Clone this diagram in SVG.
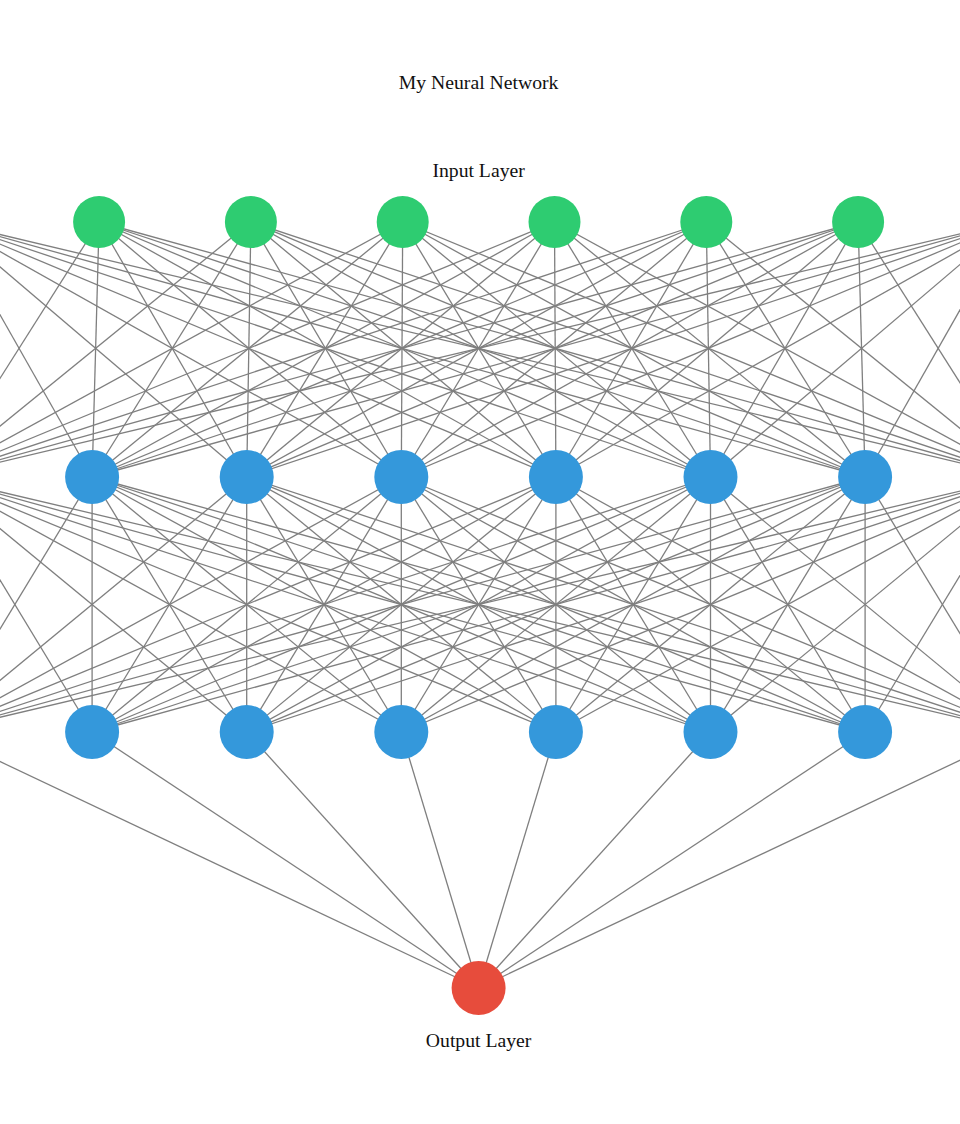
<svg xmlns="http://www.w3.org/2000/svg" width="960" height="1124" viewBox="0 0 960 1124">
<style>
.bg{fill:#ffffff}
.edges line{stroke:#7f7f7f;stroke-width:1.3}
.in{fill:#2ecc71}
.hid{fill:#3498db}
.out{fill:#e74c3c}
.lbl{font-family:"Liberation Serif","Times New Roman",serif;font-size:19.7px;fill:#111111;text-anchor:middle}
</style>
<rect class="bg" x="0" y="0" width="960" height="1124"/>
<g id="connectors" class="edges">
<line x1="-52.7" y1="222" x2="-62.5" y2="477"/><line x1="-52.7" y1="222" x2="92.1" y2="477"/><line x1="-52.7" y1="222" x2="246.7" y2="477"/><line x1="-52.7" y1="222" x2="401.3" y2="477"/><line x1="-52.7" y1="222" x2="555.9" y2="477"/><line x1="-52.7" y1="222" x2="710.5" y2="477"/><line x1="-52.7" y1="222" x2="865.1" y2="477"/><line x1="-52.7" y1="222" x2="1019.7" y2="477"/>
<line x1="99.1" y1="222" x2="-62.5" y2="477"/><line x1="99.1" y1="222" x2="92.1" y2="477"/><line x1="99.1" y1="222" x2="246.7" y2="477"/><line x1="99.1" y1="222" x2="401.3" y2="477"/><line x1="99.1" y1="222" x2="555.9" y2="477"/><line x1="99.1" y1="222" x2="710.5" y2="477"/><line x1="99.1" y1="222" x2="865.1" y2="477"/><line x1="99.1" y1="222" x2="1019.7" y2="477"/>
<line x1="250.9" y1="222" x2="-62.5" y2="477"/><line x1="250.9" y1="222" x2="92.1" y2="477"/><line x1="250.9" y1="222" x2="246.7" y2="477"/><line x1="250.9" y1="222" x2="401.3" y2="477"/><line x1="250.9" y1="222" x2="555.9" y2="477"/><line x1="250.9" y1="222" x2="710.5" y2="477"/><line x1="250.9" y1="222" x2="865.1" y2="477"/><line x1="250.9" y1="222" x2="1019.7" y2="477"/>
<line x1="402.7" y1="222" x2="-62.5" y2="477"/><line x1="402.7" y1="222" x2="92.1" y2="477"/><line x1="402.7" y1="222" x2="246.7" y2="477"/><line x1="402.7" y1="222" x2="401.3" y2="477"/><line x1="402.7" y1="222" x2="555.9" y2="477"/><line x1="402.7" y1="222" x2="710.5" y2="477"/><line x1="402.7" y1="222" x2="865.1" y2="477"/><line x1="402.7" y1="222" x2="1019.7" y2="477"/>
<line x1="554.5" y1="222" x2="-62.5" y2="477"/><line x1="554.5" y1="222" x2="92.1" y2="477"/><line x1="554.5" y1="222" x2="246.7" y2="477"/><line x1="554.5" y1="222" x2="401.3" y2="477"/><line x1="554.5" y1="222" x2="555.9" y2="477"/><line x1="554.5" y1="222" x2="710.5" y2="477"/><line x1="554.5" y1="222" x2="865.1" y2="477"/><line x1="554.5" y1="222" x2="1019.7" y2="477"/>
<line x1="706.3" y1="222" x2="-62.5" y2="477"/><line x1="706.3" y1="222" x2="92.1" y2="477"/><line x1="706.3" y1="222" x2="246.7" y2="477"/><line x1="706.3" y1="222" x2="401.3" y2="477"/><line x1="706.3" y1="222" x2="555.9" y2="477"/><line x1="706.3" y1="222" x2="710.5" y2="477"/><line x1="706.3" y1="222" x2="865.1" y2="477"/><line x1="706.3" y1="222" x2="1019.7" y2="477"/>
<line x1="858.1" y1="222" x2="-62.5" y2="477"/><line x1="858.1" y1="222" x2="92.1" y2="477"/><line x1="858.1" y1="222" x2="246.7" y2="477"/><line x1="858.1" y1="222" x2="401.3" y2="477"/><line x1="858.1" y1="222" x2="555.9" y2="477"/><line x1="858.1" y1="222" x2="710.5" y2="477"/><line x1="858.1" y1="222" x2="865.1" y2="477"/><line x1="858.1" y1="222" x2="1019.7" y2="477"/>
<line x1="1009.9" y1="222" x2="-62.5" y2="477"/><line x1="1009.9" y1="222" x2="92.1" y2="477"/><line x1="1009.9" y1="222" x2="246.7" y2="477"/><line x1="1009.9" y1="222" x2="401.3" y2="477"/><line x1="1009.9" y1="222" x2="555.9" y2="477"/><line x1="1009.9" y1="222" x2="710.5" y2="477"/><line x1="1009.9" y1="222" x2="865.1" y2="477"/><line x1="1009.9" y1="222" x2="1019.7" y2="477"/>
<line x1="-62.5" y1="477" x2="-62.5" y2="732"/><line x1="-62.5" y1="477" x2="92.1" y2="732"/><line x1="-62.5" y1="477" x2="246.7" y2="732"/><line x1="-62.5" y1="477" x2="401.3" y2="732"/><line x1="-62.5" y1="477" x2="555.9" y2="732"/><line x1="-62.5" y1="477" x2="710.5" y2="732"/><line x1="-62.5" y1="477" x2="865.1" y2="732"/><line x1="-62.5" y1="477" x2="1019.7" y2="732"/>
<line x1="92.1" y1="477" x2="-62.5" y2="732"/><line x1="92.1" y1="477" x2="92.1" y2="732"/><line x1="92.1" y1="477" x2="246.7" y2="732"/><line x1="92.1" y1="477" x2="401.3" y2="732"/><line x1="92.1" y1="477" x2="555.9" y2="732"/><line x1="92.1" y1="477" x2="710.5" y2="732"/><line x1="92.1" y1="477" x2="865.1" y2="732"/><line x1="92.1" y1="477" x2="1019.7" y2="732"/>
<line x1="246.7" y1="477" x2="-62.5" y2="732"/><line x1="246.7" y1="477" x2="92.1" y2="732"/><line x1="246.7" y1="477" x2="246.7" y2="732"/><line x1="246.7" y1="477" x2="401.3" y2="732"/><line x1="246.7" y1="477" x2="555.9" y2="732"/><line x1="246.7" y1="477" x2="710.5" y2="732"/><line x1="246.7" y1="477" x2="865.1" y2="732"/><line x1="246.7" y1="477" x2="1019.7" y2="732"/>
<line x1="401.3" y1="477" x2="-62.5" y2="732"/><line x1="401.3" y1="477" x2="92.1" y2="732"/><line x1="401.3" y1="477" x2="246.7" y2="732"/><line x1="401.3" y1="477" x2="401.3" y2="732"/><line x1="401.3" y1="477" x2="555.9" y2="732"/><line x1="401.3" y1="477" x2="710.5" y2="732"/><line x1="401.3" y1="477" x2="865.1" y2="732"/><line x1="401.3" y1="477" x2="1019.7" y2="732"/>
<line x1="555.9" y1="477" x2="-62.5" y2="732"/><line x1="555.9" y1="477" x2="92.1" y2="732"/><line x1="555.9" y1="477" x2="246.7" y2="732"/><line x1="555.9" y1="477" x2="401.3" y2="732"/><line x1="555.9" y1="477" x2="555.9" y2="732"/><line x1="555.9" y1="477" x2="710.5" y2="732"/><line x1="555.9" y1="477" x2="865.1" y2="732"/><line x1="555.9" y1="477" x2="1019.7" y2="732"/>
<line x1="710.5" y1="477" x2="-62.5" y2="732"/><line x1="710.5" y1="477" x2="92.1" y2="732"/><line x1="710.5" y1="477" x2="246.7" y2="732"/><line x1="710.5" y1="477" x2="401.3" y2="732"/><line x1="710.5" y1="477" x2="555.9" y2="732"/><line x1="710.5" y1="477" x2="710.5" y2="732"/><line x1="710.5" y1="477" x2="865.1" y2="732"/><line x1="710.5" y1="477" x2="1019.7" y2="732"/>
<line x1="865.1" y1="477" x2="-62.5" y2="732"/><line x1="865.1" y1="477" x2="92.1" y2="732"/><line x1="865.1" y1="477" x2="246.7" y2="732"/><line x1="865.1" y1="477" x2="401.3" y2="732"/><line x1="865.1" y1="477" x2="555.9" y2="732"/><line x1="865.1" y1="477" x2="710.5" y2="732"/><line x1="865.1" y1="477" x2="865.1" y2="732"/><line x1="865.1" y1="477" x2="1019.7" y2="732"/>
<line x1="1019.7" y1="477" x2="-62.5" y2="732"/><line x1="1019.7" y1="477" x2="92.1" y2="732"/><line x1="1019.7" y1="477" x2="246.7" y2="732"/><line x1="1019.7" y1="477" x2="401.3" y2="732"/><line x1="1019.7" y1="477" x2="555.9" y2="732"/><line x1="1019.7" y1="477" x2="710.5" y2="732"/><line x1="1019.7" y1="477" x2="865.1" y2="732"/><line x1="1019.7" y1="477" x2="1019.7" y2="732"/>
<line x1="-62.5" y1="732" x2="478.6" y2="988"/><line x1="92.1" y1="732" x2="478.6" y2="988"/><line x1="246.7" y1="732" x2="478.6" y2="988"/><line x1="401.3" y1="732" x2="478.6" y2="988"/><line x1="555.9" y1="732" x2="478.6" y2="988"/><line x1="710.5" y1="732" x2="478.6" y2="988"/><line x1="865.1" y1="732" x2="478.6" y2="988"/><line x1="1019.7" y1="732" x2="478.6" y2="988"/>
</g>
<g id="input-layer">
<circle id="in0" class="in" cx="-52.7" cy="222" r="26"/>
<circle id="in1" class="in" cx="99.1" cy="222" r="26"/>
<circle id="in2" class="in" cx="250.9" cy="222" r="26"/>
<circle id="in3" class="in" cx="402.7" cy="222" r="26"/>
<circle id="in4" class="in" cx="554.5" cy="222" r="26"/>
<circle id="in5" class="in" cx="706.3" cy="222" r="26"/>
<circle id="in6" class="in" cx="858.1" cy="222" r="26"/>
<circle id="in7" class="in" cx="1009.9" cy="222" r="26"/>
</g>
<g id="hidden-layer-1">
<circle id="h1n0" class="hid" cx="-62.5" cy="477" r="27"/>
<circle id="h1n1" class="hid" cx="92.1" cy="477" r="27"/>
<circle id="h1n2" class="hid" cx="246.7" cy="477" r="27"/>
<circle id="h1n3" class="hid" cx="401.3" cy="477" r="27"/>
<circle id="h1n4" class="hid" cx="555.9" cy="477" r="27"/>
<circle id="h1n5" class="hid" cx="710.5" cy="477" r="27"/>
<circle id="h1n6" class="hid" cx="865.1" cy="477" r="27"/>
<circle id="h1n7" class="hid" cx="1019.7" cy="477" r="27"/>
</g>
<g id="hidden-layer-2">
<circle id="h2n0" class="hid" cx="-62.5" cy="732" r="27"/>
<circle id="h2n1" class="hid" cx="92.1" cy="732" r="27"/>
<circle id="h2n2" class="hid" cx="246.7" cy="732" r="27"/>
<circle id="h2n3" class="hid" cx="401.3" cy="732" r="27"/>
<circle id="h2n4" class="hid" cx="555.9" cy="732" r="27"/>
<circle id="h2n5" class="hid" cx="710.5" cy="732" r="27"/>
<circle id="h2n6" class="hid" cx="865.1" cy="732" r="27"/>
<circle id="h2n7" class="hid" cx="1019.7" cy="732" r="27"/>
</g>
<g id="output-layer">
<circle id="out0" class="out" cx="478.6" cy="988" r="27"/>
</g>
<g id="labels">
<text class="lbl" x="478.6" y="89">My Neural Network</text>
<text class="lbl" x="478.6" y="177">Input Layer</text>
<text class="lbl" x="478.6" y="1047">Output Layer</text>
</g>
</svg>
